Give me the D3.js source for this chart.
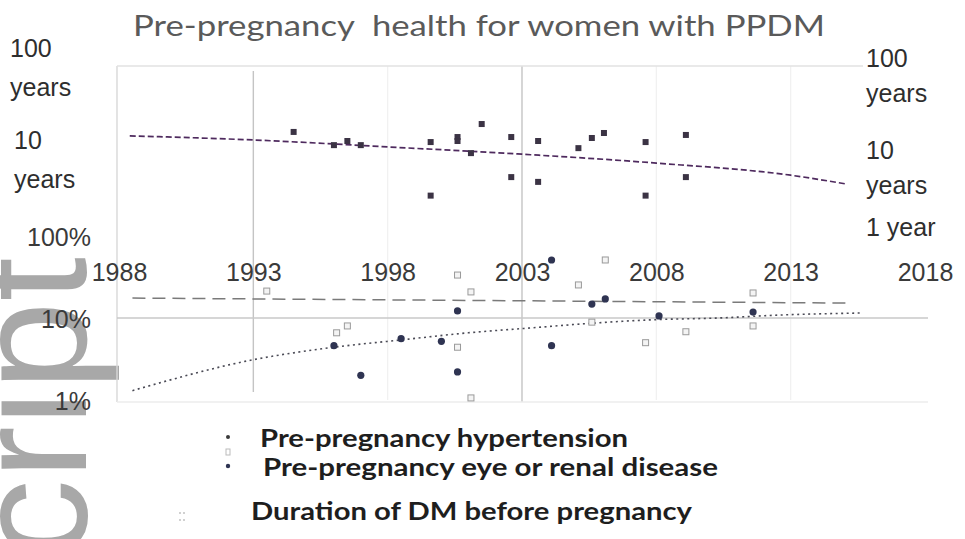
<!DOCTYPE html>
<html><head><meta charset="utf-8">
<script src="https://cdn.jsdelivr.net/npm/d3@7"></script>
<style>html,body{margin:0;padding:0;background:#fff;} svg{display:block;}</style>
</head><body>
<svg id="chart" width="965" height="539"></svg>
<script>
// ---------- data ----------
const yearTicks = [1988, 1993, 1998, 2003, 2008, 2013, 2018];
const strongGridYears = [1993, 2003];
const faintGridYears = [1998, 2008, 2013];
const percentTicks = [1, 10, 100];
const percentTickLabels = ["1%", "10%", "100%"];
const durationTicksLeft = [100, 10];
const durationTickLabelsLeft = [["100", "years"], ["10", "years"]];
const durationTicksRight = [100, 10, 1];
const durationTickLabelsRight = [["100", "years"], ["10", "years"], ["1 year"]];

// Duration of DM before pregnancy (years)
const durationYears  = [1994.5, 1996.0, 1996.5, 1997.0, 1999.6, 1999.6, 2000.6, 2000.6, 2001.1, 2001.5, 2002.6, 2002.6, 2003.6, 2003.6, 2005.1, 2005.6, 2006.05, 2007.6, 2007.6, 2009.1, 2009.1];
const durationValues = [19.2, 13.8, 15.3, 13.8, 14.9, 3.9, 16.9, 15.3, 11.3, 23.4, 16.9, 6.2, 15.3, 5.5, 12.8, 16.5, 18.7, 14.9, 3.9, 17.8, 6.2];
const durationTrendYears  = [1988.4, 1993, 1998, 2003, 2008, 2013, 2015.1];
const durationTrendValues = [17.4, 15.7, 13.2, 11.0, 8.8, 6.5, 5.2];

// Pre-pregnancy hypertension (%)
const htnYears  = [1996.0, 1997.0, 1998.5, 2000.0, 2000.6, 2000.6, 2004.1, 2004.1, 2005.6, 2006.1, 2008.1, 2011.6];
const htnValues = [4.6, 2.0, 5.6, 5.2, 12.2, 2.2, 4.6, 51, 14.8, 17.1, 10.6, 11.8];
const htnTrendYears  = [1988.5, 1993, 1996, 1998.5, 2001, 2003.4, 2005.3, 2007.8, 2010.3, 2012.7, 2015.6];
const htnTrendValues = [1.3, 3.1, 4.4, 5.4, 6.6, 7.6, 8.5, 9.5, 10.0, 10.9, 11.5];

// Pre-pregnancy eye or renal disease (%)
const eyeYears  = [1993.5, 1996.1, 1996.5, 2000.6, 2000.6, 2001.1, 2001.1, 2005.1, 2005.6, 2006.1, 2007.6, 2009.1, 2011.6, 2011.6];
const eyeValues = [21.3, 6.6, 8.0, 33.4, 4.4, 20.8, 1.06, 25.3, 8.9, 51, 5.0, 6.8, 20.2, 8.0];
const eyeTrendYears  = [1988.5, 2015.2];
const eyeTrendValues = [17.5, 15.2];

const titleText = "Pre-pregnancy  health for women with PPDM";
const legendLabels = ["Pre-pregnancy hypertension", "Pre-pregnancy eye or renal disease", "Duration of DM before pregnancy"];
const watermarkText = "cript";

// ---------- layout ----------
const W = 965, H = 539;
const svg = d3.select("#chart");
svg.append("rect").attr("width", W).attr("height", H).attr("fill", "#fff");

const x = d3.scaleLinear().domain([1988, 2018]).range([119, 925]);
const yTop = d3.scaleLog().domain([1, 100]).range([250, 66]);
const yBot = d3.scaleLog().domain([1, 100]).range([400, 236]);

const zip = (a, b) => a.map((v, i) => [v, b[i]]);
const labelFont = "'Liberation Sans', Arial, sans-serif";

// watermark letters running up the left edge (partly outside the page)
svg.append("text")
  .attr("transform", "translate(86,257) rotate(-90)")
  .attr("text-anchor", "end")
  .attr("font-family", labelFont)
  .attr("font-size", 160)
  .attr("fill", "#a8a8a8")
  .text(watermarkText);

// ---------- frame and gridlines ----------
const g = svg.append("g");
const left = x(1988) - 2;
g.selectAll("line.faint").data(faintGridYears).join("line")
  .attr("x1", d => x(d)).attr("x2", d => x(d))
  .attr("y1", yTop(100)).attr("y2", yBot(1))
  .attr("stroke", "#f0f0f0").attr("stroke-width", 1.2);
g.selectAll("line.strong").data(strongGridYears).join("line")
  .attr("x1", d => x(d)).attr("x2", d => x(d))
  .attr("y1", d => d === 2003 ? yTop(100) : yTop(100) + 5)
  .attr("y2", d => d === 2003 ? yBot(1) + 2 : yBot(1) - 8)
  .attr("stroke", "#c4c4c4").attr("stroke-width", 1.4);
g.append("line").attr("x1", left).attr("x2", left)
  .attr("y1", yTop(100)).attr("y2", yBot(1) + 2)
  .attr("stroke", "#d8d8d8").attr("stroke-width", 1.4);
g.append("line").attr("x1", left).attr("x2", 863)
  .attr("y1", yTop(100)).attr("y2", yTop(100))
  .attr("stroke", "#e2e2e2").attr("stroke-width", 1.4);
g.append("line").attr("x1", left).attr("x2", 928)
  .attr("y1", yBot(1) + 2).attr("y2", yBot(1) + 2)
  .attr("stroke", "#ececec").attr("stroke-width", 1.4);
g.append("line").attr("x1", left).attr("x2", 928)
  .attr("y1", yBot(10)).attr("y2", yBot(10))
  .attr("stroke", "#c8c8c8").attr("stroke-width", 1.4);

// ---------- axis labels ----------
const xAxis = svg.append("g").attr("transform", "translate(0,281)")
  .call(d3.axisBottom(x).tickValues(yearTicks).tickFormat(d3.format("d")).tickSize(0));
xAxis.select(".domain").remove();
xAxis.selectAll("text")
  .attr("y", 0).attr("dy", 0)
  .attr("font-family", labelFont).attr("font-size", 25)
  .attr("fill", "#3a3a3a");

svg.append("g").selectAll("text").data(percentTicks).join("text")
  .attr("x", 91).attr("y", d => yBot(d) + 10)
  .attr("text-anchor", "end")
  .attr("font-family", labelFont).attr("font-size", 25)
  .attr("fill", "#3a3a3a")
  .text((d, i) => percentTickLabels[i]);

const leftLab = svg.append("g");
durationTicksLeft.forEach((v, i) => {
  durationTickLabelsLeft[i].forEach((line, j) => {
    leftLab.append("text")
      .attr("x", i === 0 ? 10 : 14)
      .attr("y", yTop(v) - 9 + j * 39)
      .attr("font-family", labelFont).attr("font-size", 25)
      .attr("fill", "#2e2e2e")
      .text(line);
  });
});

const rightLab = svg.append("g");
durationTicksRight.forEach((v, i) => {
  const lines = durationTickLabelsRight[i];
  const y0 = lines.length === 1 ? yTop(v) - 14 : yTop(v) + 1;
  lines.forEach((line, j) => {
    rightLab.append("text")
      .attr("x", 866)
      .attr("y", y0 + j * 35)
      .attr("font-family", labelFont).attr("font-size", 25)
      .attr("fill", "#2e2e2e")
      .text(line);
  });
});

// ---------- title ----------
svg.append("text")
  .attr("x", 133).attr("y", 36)
  .style("white-space", "pre")
  .attr("font-family", "Lato, 'Open Sans', sans-serif")
  .attr("font-size", 29)
  .attr("fill", "#5a5a5a")
  .attr("textLength", 692).attr("lengthAdjust", "spacingAndGlyphs")
  .text(titleText);

// ---------- trend lines ----------
const lineTop = d3.line().x(d => x(d[0])).y(d => yTop(d[1])).curve(d3.curveMonotoneX);
const lineBot = d3.line().x(d => x(d[0])).y(d => yBot(d[1])).curve(d3.curveMonotoneX);

svg.append("path").datum(zip(eyeTrendYears, eyeTrendValues))
  .attr("d", lineBot).attr("fill", "none")
  .attr("stroke", "#7a7a7a").attr("stroke-width", 1.5)
  .attr("stroke-dasharray", "13,7");

svg.append("path").datum(zip(htnTrendYears, htnTrendValues))
  .attr("d", lineBot).attr("fill", "none")
  .attr("stroke", "#4a4a55").attr("stroke-width", 1.6)
  .attr("stroke-dasharray", "2,3.5");

svg.append("path").datum(zip(durationTrendYears, durationTrendValues))
  .attr("d", lineTop).attr("fill", "none")
  .attr("stroke", "#4e2a5e").attr("stroke-width", 1.7)
  .attr("stroke-dasharray", "6,3");

// ---------- points ----------
svg.append("g").selectAll("rect").data(zip(eyeYears, eyeValues)).join("rect")
  .attr("x", d => x(d[0]) - 3).attr("y", d => yBot(d[1]) - 3)
  .attr("width", 6).attr("height", 6)
  .attr("fill", "#f4f4f4").attr("stroke", "#9a9a9a").attr("stroke-width", 1);

svg.append("g").selectAll("circle").data(zip(htnYears, htnValues)).join("circle")
  .attr("cx", d => x(d[0])).attr("cy", d => yBot(d[1]))
  .attr("r", 3.6)
  .attr("fill", "#2f3452");

svg.append("g").selectAll("rect").data(zip(durationYears, durationValues)).join("rect")
  .attr("x", d => x(d[0]) - 3).attr("y", d => yTop(d[1]) - 3)
  .attr("width", 6).attr("height", 6)
  .attr("fill", "#3b3344");

// ---------- legend ----------
const legendFont = "Lato, 'Open Sans', sans-serif";
const legendRows = [
  { x: 260, y: 447, w: 368 },
  { x: 263, y: 476, w: 455 },
  { x: 251, y: 520, w: 441 }
];
const leg = svg.append("g");
legendLabels.forEach((t, i) => {
  leg.append("text")
    .attr("x", legendRows[i].x).attr("y", legendRows[i].y)
    .attr("font-family", legendFont).attr("font-weight", 700)
    .attr("font-size", 25).attr("fill", "#1e1e1e")
    .attr("textLength", legendRows[i].w).attr("lengthAdjust", "spacingAndGlyphs")
    .text(t);
});
// legend markers
leg.append("circle").attr("cx", 228).attr("cy", 437).attr("r", 2).attr("fill", "#3a3a3a");
leg.append("rect").attr("x", 226).attr("y", 449).attr("width", 4).attr("height", 6)
  .attr("fill", "none").attr("stroke", "#bbb").attr("stroke-width", 1);
leg.append("circle").attr("cx", 228).attr("cy", 466).attr("r", 2.2).attr("fill", "#2f3452");
[[180, 513], [184, 513], [180, 520], [184, 520]].forEach(p => {
  leg.append("circle").attr("cx", p[0]).attr("cy", p[1]).attr("r", 0.9).attr("fill", "#bbb");
});
</script>
</body></html>
